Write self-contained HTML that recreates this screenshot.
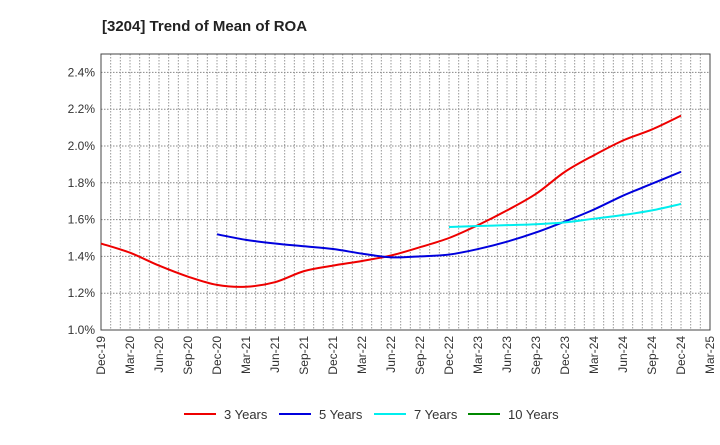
<!DOCTYPE html>
<html><head><meta charset="utf-8"><style>
body{margin:0;background:#fff;font-family:"Liberation Sans",sans-serif;}
svg text{font-family:"Liberation Sans",sans-serif;}
</style></head><body>
<svg id="chart" width="720" height="440" xmlns="http://www.w3.org/2000/svg">
<text x="102" y="31" font-size="15" font-weight="bold" fill="#222">[3204]  Trend of Mean of ROA</text>
<g id="grid"></g><g id="axes"></g><g id="series"></g><g id="legend"></g>
</svg>
<script>
const xLabels=["Dec-19","Mar-20","Jun-20","Sep-20","Dec-20","Mar-21","Jun-21","Sep-21","Dec-21","Mar-22","Jun-22","Sep-22","Dec-22","Mar-23","Jun-23","Sep-23","Dec-23","Mar-24","Jun-24","Sep-24","Dec-24","Mar-25"];
const yTicks=[1.0,1.2,1.4,1.6,1.8,2.0,2.2,2.4];
const red3=[1.47,1.42,1.35,1.29,1.245,1.235,1.26,1.32,1.35,1.375,1.405,1.45,1.50,1.57,1.65,1.74,1.86,1.95,2.03,2.09,2.165];
const blue5=[1.52,1.49,1.47,1.455,1.44,1.415,1.395,1.40,1.41,1.44,1.48,1.53,1.59,1.655,1.73,1.795,1.86];
const cyan7=[1.56,1.565,1.57,1.575,1.585,1.605,1.625,1.65,1.685];
const green10=[];
const NS="http://www.w3.org/2000/svg";
const L=101,R=710,T=54,B=330,yMin=1.0,yMax=2.5;
const X=i=>L+(R-L)*i/21;
const Y=v=>B-(v-yMin)/(yMax-yMin)*(B-T);
function mk(tag,attrs,parent){const e=document.createElementNS(NS,tag);for(const k in attrs)e.setAttribute(k,attrs[k]);parent.appendChild(e);return e;}
const grid=document.getElementById('grid'),axes=document.getElementById('axes'),series=document.getElementById('series'),legend=document.getElementById('legend');
for(let m=1;m<63;m++){const x=L+(R-L)*m/63;const g=mk('line',{x1:x,x2:x,y1:T,y2:B,stroke:'#999','stroke-dasharray':'1.5,1.5','stroke-width':1},grid);

}
yTicks.forEach(v=>{const y=Y(v);const g=mk('line',{x1:L,x2:R,y1:y,y2:y,stroke:'#888','stroke-dasharray':'1.5,1.5'},grid);


const t=mk('text',{x:L-6,y:y+4,'text-anchor':'end','font-size':12,fill:'#333'},axes);t.textContent=v.toFixed(1)+'%';

});
const fr=mk('rect',{x:L,y:T,width:R-L,height:B-T,fill:'none',stroke:'#444','stroke-width':1},axes);


xLabels.forEach((s,i)=>{const x=X(i)+4;const t=mk('text',{x:x,y:B+6,'text-anchor':'end','font-size':12,fill:'#333',transform:`rotate(-90 ${x} ${B+6})`},axes);t.textContent=s;

});
function path(vals,start){const p=vals.map((v,i)=>[X(start+i),Y(v)]);if(!p.length)return'';let d=`M${p[0][0]},${p[0][1]}`;
for(let i=0;i<p.length-1;i++){const p0=p[i-1]||p[i],p1=p[i],p2=p[i+1],p3=p[i+2]||p2;
d+=` C${p1[0]+(p2[0]-p0[0])/6},${p1[1]+(p2[1]-p0[1])/6} ${p2[0]-(p3[0]-p1[0])/6},${p2[1]-(p3[1]-p1[1])/6} ${p2[0]},${p2[1]}`;}return d;}
const defs=[[red3,0,'#ee0000','3 Years','series-3-years'],[blue5,4,'#0000dd','5 Years','series-5-years'],[cyan7,12,'#00eeee','7 Years','series-7-years'],[green10,16,'#008800','10 Years','series-10-years']];
defs.forEach(([vals,start,col,lab,name],k)=>{if(vals.length){const e=mk('path',{d:path(vals,start),fill:'none',stroke:col,'stroke-width':2},series);

}
const lx=[184,279,374,468][k];
const g=mk('g',{},legend);


mk('line',{x1:lx,x2:lx+32,y1:414,y2:414,stroke:col,'stroke-width':2},g);
const t=mk('text',{x:lx+40,y:419,'font-size':13,fill:'#333'},g);t.textContent=lab;});
</script>
</body></html>
